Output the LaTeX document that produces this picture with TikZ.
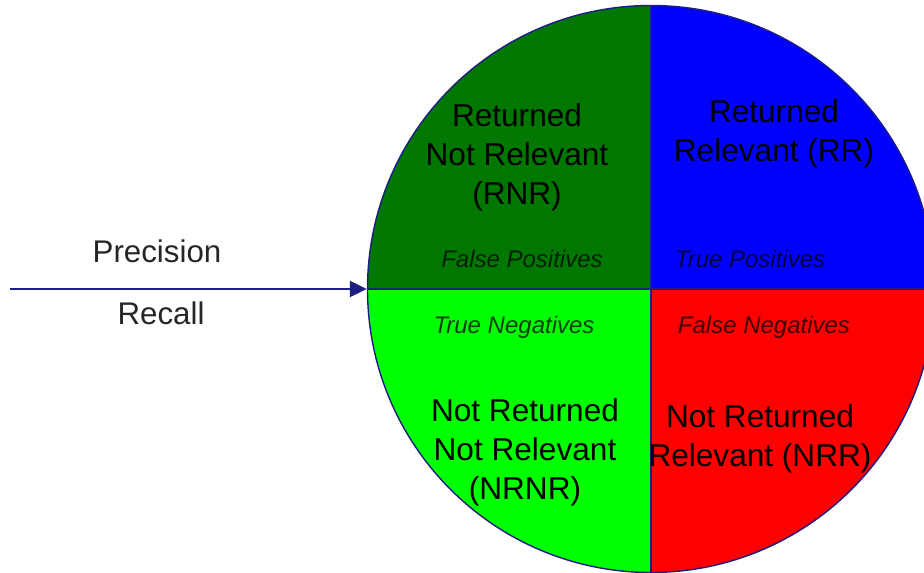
\documentclass[tikz,border=0pt]{standalone}
\usepackage{fontspec}
\setmainfont{Liberation Sans}
\usetikzlibrary{arrows.meta}

\definecolor{rnrgreen}{RGB}{0,120,0}
\definecolor{rrblue}{RGB}{0,0,255}
\definecolor{nrnrgreen}{RGB}{0,255,0}
\definecolor{nrrred}{RGB}{255,0,0}
\definecolor{edgenavy}{RGB}{30,30,130}

\tikzset{
  biglabel/.style={align=center, text=black, inner sep=0pt,
    font=\fontsize{31.6}{39}\selectfont},
  caselabel/.style={inner sep=0pt, text=black, text opacity=0.75,
    font=\fontsize{24}{28}\selectfont\itshape},
  sidelabel/.style={inner sep=0pt, text=black!85,
    font=\fontsize{31.3}{36}\selectfont},
  edge/.style={draw=edgenavy, line width=1.4pt},
  pointer/.style={draw=edgenavy, line width=2.2pt,
    -{Triangle[length=17pt,width=16pt]}}
}

\begin{document}
\begin{tikzpicture}[x=1pt,y=1pt]
  \useasboundingbox (0,0) rectangle (924,573);
  \clip (0,0) rectangle (924,573);

  % centre and radius of the disc
  \def\R{283.5}
  \coordinate (c) at (651,284);

  % four quadrants
  \fill[rnrgreen]  (c) -- ++(0,\R) arc[start angle=90,  end angle=180, radius=\R] -- cycle;
  \fill[rrblue]    (c) -- ++(\R,0) arc[start angle=0,   end angle=90,  radius=\R] -- cycle;
  \fill[nrnrgreen] (c) -- ++(-\R,0) arc[start angle=180, end angle=270, radius=\R] -- cycle;
  \fill[nrrred]    (c) -- ++(0,-\R) arc[start angle=270, end angle=360, radius=\R] -- cycle;

  % outline and dividers
  \node[circle, edge, minimum size=2*\R pt, inner sep=0pt] (disc) at (c) {};
  \draw[edge] (disc.north) -- (disc.south);
  \draw[edge] (disc.west) -- (disc.east);

  % incoming arrow with its two labels
  \coordinate (start) at (10,284);
  \draw[pointer] (start) -- (disc.west);
  \node[sidelabel] (prec) at (157,322) {Precision};
  \node[sidelabel] (rec)  at (161,260) {Recall};

  % quadrant names
  \node[biglabel] (rnr)  at (517,416) {Returned\\Not Relevant\\(RNR)};
  \node[biglabel] (rr)   at (774,439) {Returned\\Relevant (RR)};
  \node[biglabel] (nrnr) at (525,121) {Not Returned\\Not Relevant\\(NRNR)};
  \node[biglabel] (nrr)  at (760,134) {Not Returned\\Relevant (NRR)};

  % outcome labels along the horizontal divider
  \node[caselabel] (fp) at (522,314) {False Positives};
  \node[caselabel] (tp) at (750,314) {True Positives};
  \node[caselabel] (tn) at (514,246) {True Negatives};
  \node[caselabel] (fn) at (764,246) {False Negatives};
\end{tikzpicture}
\end{document}
